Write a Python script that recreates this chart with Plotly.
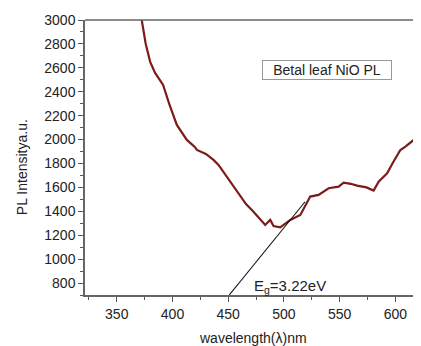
import plotly.graph_objects as go

wavelength = [371.5, 372.4, 376, 380, 384.4, 391.6, 397, 403.9, 412.9, 420, 421.9, 430, 436.8,
              441.3, 448.8, 455, 460.8, 466, 472.7, 478, 483.2, 487.7, 490.7, 496.7, 500,
              505.7, 514.7, 523.6, 531.1, 540.1, 549.1, 553.6, 560, 565.6, 574, 580.5, 585,
              592.6, 598, 604.5, 609, 616.5, 622.5, 625]
intensity = [3050, 3000, 2800, 2650, 2558, 2457, 2300, 2122, 1997, 1938, 1913, 1880, 1830,
             1788, 1690, 1600, 1523, 1460, 1397, 1340, 1286, 1328, 1277, 1266, 1290,
             1328, 1369, 1523, 1537, 1593, 1606, 1640, 1630, 1615, 1600, 1573, 1648,
             1718, 1810, 1913, 1941, 1997, 2223, 2300]

tangent_x = [450.9, 519.0]
tangent_y = [700, 1480]

label_text = "Betal leaf NiO PL"
gap_text = "E<sub>g</sub>=3.22eV"
x_title = "wavelength(λ)nm"
y_title = "PL Intensitya.u."

font = "Liberation Sans, Arial, sans-serif"

fig = go.Figure()
fig.add_trace(go.Scatter(x=wavelength, y=intensity, mode="lines",
                         line=dict(color="#7d1b1b", width=2.2), showlegend=False))
fig.add_trace(go.Scatter(x=tangent_x, y=tangent_y, mode="lines",
                         line=dict(color="#111111", width=1.1), showlegend=False))

axis_common = dict(showgrid=False, zeroline=False, showline=True, linecolor="#666666",
                   linewidth=1.5, ticks="outside", ticklen=5, tickcolor="#555555",
                   tickwidth=1, automargin=False,
                   tickfont=dict(family=font, size=14, color="#222222"))

fig.update_xaxes(range=[321.5, 623], tickmode="linear", tick0=350, dtick=50,
                 minor=dict(ticks="outside", ticklen=3, dtick=25, tick0=325, tickcolor="#555555"),
                 **axis_common)
fig.update_yaxes(range=[700, 3000], tickmode="linear", tick0=800, dtick=200,
                 minor=dict(ticks="outside", ticklen=3, dtick=100, tick0=700, tickcolor="#555555"),
                 **axis_common)

fig.add_shape(type="line", xref="paper", yref="paper", x0=0, x1=1, y0=1, y1=1,
              line=dict(color="#666666", width=1.5))

fig.add_annotation(xref="paper", yref="paper", x=0.5, y=-0.156, yanchor="middle",
                   text=x_title, showarrow=False,
                   font=dict(family=font, size=14, color="#222222"))
fig.add_annotation(xref="paper", yref="paper", x=-0.1875, y=0.465, xanchor="center",
                   yanchor="middle", textangle=-90, text=y_title, showarrow=False,
                   font=dict(family=font, size=14, color="#222222"))

fig.add_annotation(x=505, y=775, text=gap_text, showarrow=False,
                   font=dict(family=font, size=15, color="#222222"))
fig.add_annotation(xref="paper", yref="paper", x=0.72, y=0.818, xanchor="center", yanchor="middle",
                   text=label_text, showarrow=False, bordercolor="#999999", borderwidth=1,
                   borderpad=1, width=126,
                   font=dict(family=font, size=14, color="#222222"))

fig.update_layout(width=413, height=338, margin=dict(l=77, r=0, t=12, b=51),
                  plot_bgcolor="white", paper_bgcolor="white")

fig.write_html("out.html")
